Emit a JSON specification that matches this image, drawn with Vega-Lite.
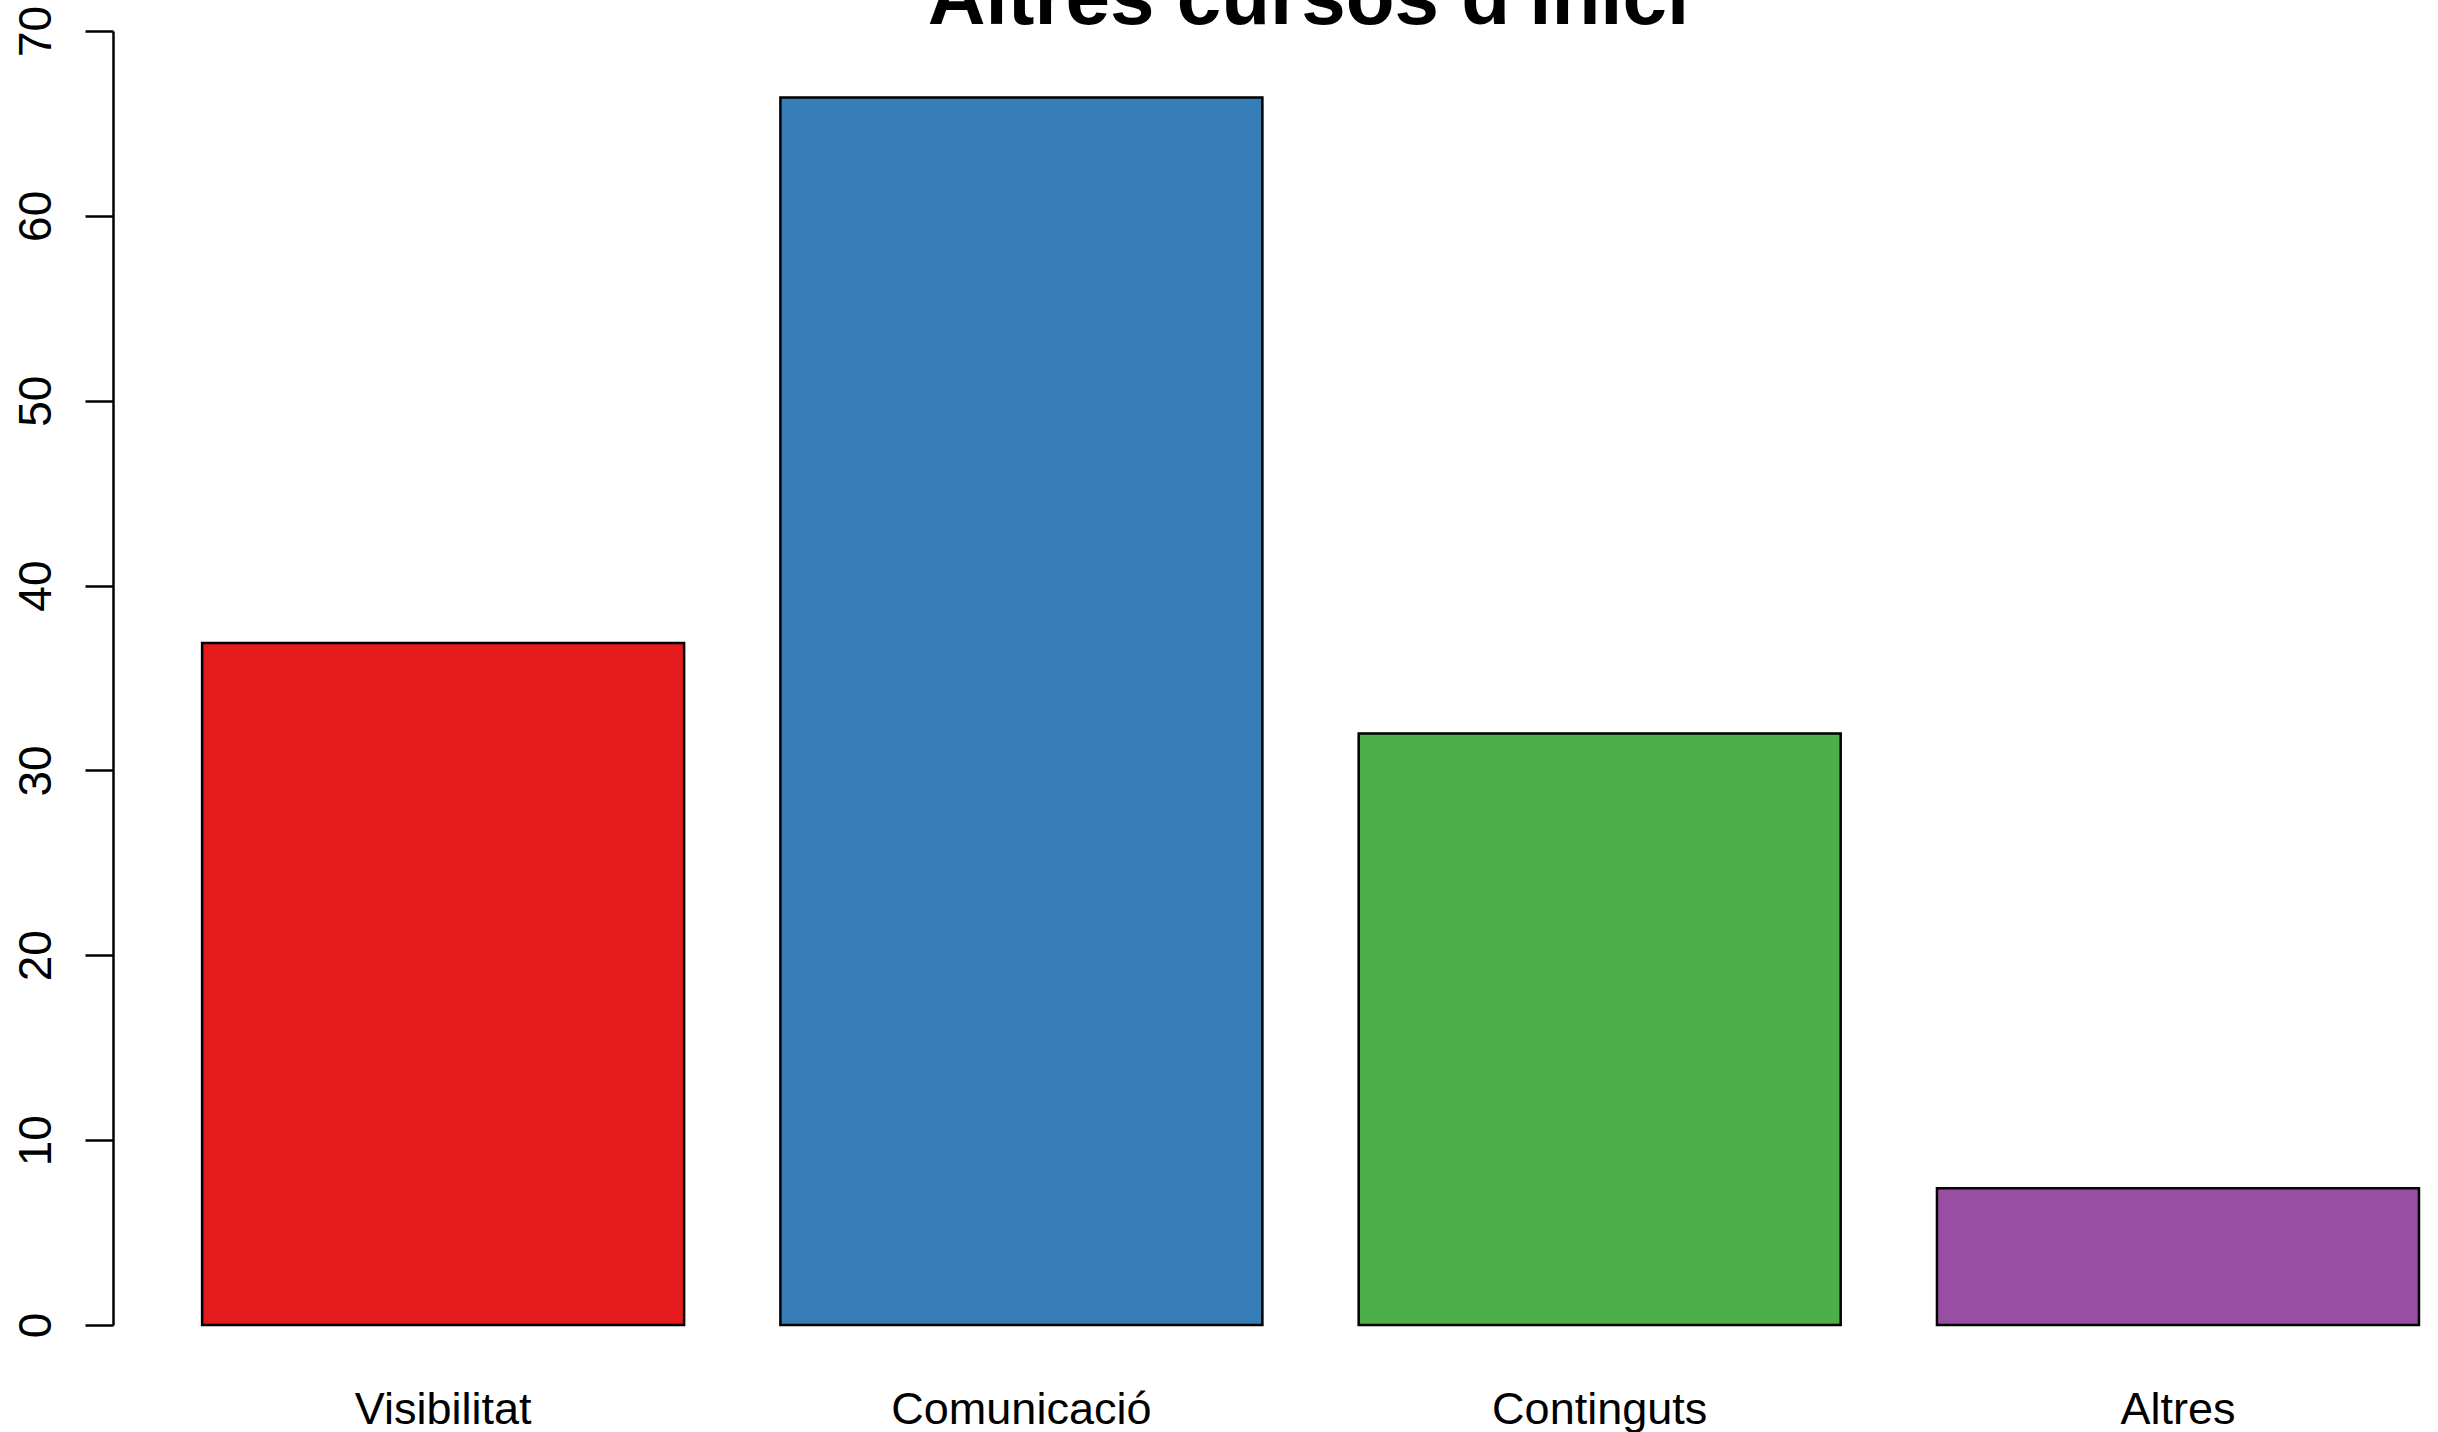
{
  "$schema": "https://vega.github.io/schema/vega-lite/v6.json",
  "autosize": "none",
  "padding": {"left": 113, "top": 31, "right": 0, "bottom": 107},
  "width": 2325,
  "height": 1294,
  "background": "white",
  "title": {
    "text": "Altres cursos d'inici",
    "font": "Liberation Sans",
    "fontSize": 80,
    "fontWeight": "bold",
    "color": "black",
    "anchor": "middle",
    "frame": "group",
    "baseline": "alphabetic",
    "offset": 0,
    "dy": 99,
    "dx": 33
  },
  "data": {
    "values": [
      {"categoria": "Visibilitat", "valor": 36.9},
      {"categoria": "Comunicació", "valor": 66.4},
      {"categoria": "Continguts", "valor": 32.0},
      {"categoria": "Altres", "valor": 7.4}
    ]
  },
  "mark": {"type": "bar", "stroke": "black", "strokeWidth": 2.5, "cornerRadius": 0},
  "encoding": {
    "x": {
      "field": "categoria",
      "type": "nominal",
      "sort": null,
      "scale": {"paddingInner": 0.1665, "paddingOuter": 0.0935, "align": 0.824},
      "axis": {
        "title": null,
        "domain": false,
        "ticks": false,
        "tickSize": 0,
        "labelAngle": 0,
        "labelFont": "Liberation Sans",
        "labelFontSize": 45,
        "labelColor": "black",
        "labelBaseline": "alphabetic",
        "labelPadding": 98,
        "labelLimit": 0
      }
    },
    "y": {
      "field": "valor",
      "type": "quantitative",
      "scale": {"domain": [0, 70], "nice": false, "zero": true},
      "axis": {
        "title": null,
        "grid": false,
        "values": [0, 10, 20, 30, 40, 50, 60, 70],
        "domainColor": "black",
        "domainWidth": 2.5,
        "tickColor": "black",
        "tickWidth": 2.5,
        "tickSize": 28,
        "labelAngle": -90,
        "labelAlign": "center",
        "labelBaseline": "alphabetic",
        "labelPadding": 35,
        "labelFont": "Liberation Sans",
        "labelFontSize": 46,
        "labelColor": "black",
        "labelFlush": false,
        "labelOverlap": false
      }
    },
    "color": {
      "field": "categoria",
      "type": "nominal",
      "scale": {
        "domain": ["Visibilitat", "Comunicació", "Continguts", "Altres"],
        "range": ["#E41A1C", "#377EB8", "#4DAF4A", "#984EA3"]
      },
      "legend": null
    }
  },
  "config": {
    "view": {"stroke": null}
  }
}
